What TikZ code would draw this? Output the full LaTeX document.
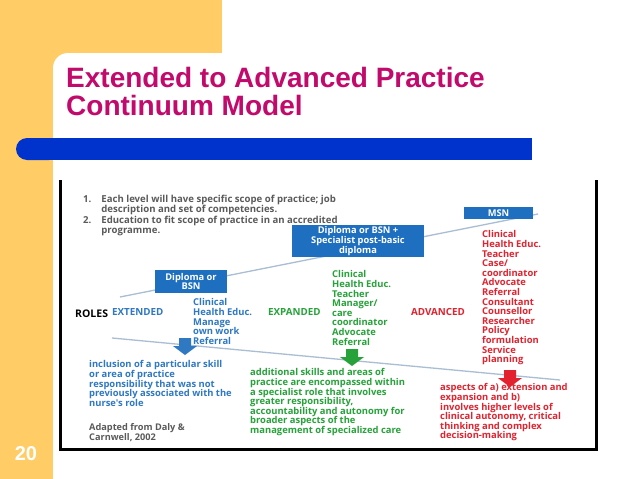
\documentclass[tikz,border=0pt]{standalone}
\usepackage{fontspec}
\newfontfamily\titlefont{Liberation Sans}
\newfontfamily\labelfont{Open Sans}
\definecolor{SlideOrange}{HTML}{FFCC66}
\definecolor{TitlePink}{HTML}{C20A6C}
\definecolor{BarBlue}{HTML}{0033CC}
\definecolor{BoxBlue}{HTML}{1F6FC0}
\definecolor{ExtBlue}{HTML}{2F78C2}
\definecolor{ExpGreen}{HTML}{27A23A}
\definecolor{AdvRed}{HTML}{E2232F}
\definecolor{NoteGray}{HTML}{5A5A5A}
\definecolor{TrendGray}{HTML}{A9BDD3}
\usetikzlibrary{positioning}

\begin{document}
\begin{tikzpicture}[x=1pt, y=-1pt,
    level/.style={fill=BoxBlue, text=white, inner sep=0pt, align=center,
                  font=\labelfont\bfseries\fontsize{9.3}{9.6}\selectfont},
    rolelist/.style={anchor=north west, inner sep=0pt, align=left,
                     font=\labelfont\bfseries\fontsize{9.4}{9.6}\selectfont},
    roletag/.style={anchor=west, inner sep=0pt,
                    font=\labelfont\bfseries\fontsize{9.8}{10}\selectfont},
    trend/.style={TrendGray, line width=1.3pt},
    downarrow/.pic={\fill[#1] (-6,0) -- (6,0) -- (6,8) -- (12,8) -- (0,17)
                    -- (-12,8) -- (-6,8) -- cycle;}]
  \useasboundingbox (0,0) rectangle (638,479);

  % Slide background
  \fill[SlideOrange] (0,0) rectangle (222,53);
  \fill[SlideOrange] (0,0) rectangle (53,479);
  \fill[SlideOrange] (53,53) rectangle (75,75);
  \fill[white, rounded corners=15pt] (53,53) rectangle (680,520);
  \fill[BarBlue, rounded corners=11pt] (16,138) rectangle (60,160);
  \fill[BarBlue] (40,138) rectangle (532,160);

  \node[anchor=north west, inner sep=0pt, align=left, text=TitlePink,
        font=\titlefont\bfseries\fontsize{28}{28}\selectfont] (title) at (66,67)
    {Extended to Advanced Practice\\Continuum Model};
  \node[text=white, font=\titlefont\bfseries\fontsize{20}{20}\selectfont]
    (pageno) at (26,454) {20};

  % Picture frame
  \draw[line width=3pt] (60,180) -- (60,449) -- (596,449) -- (596,180);

  % Notes
  \node[anchor=north west, inner sep=0pt, text=NoteGray,
        font=\labelfont\bfseries\fontsize{9.6}{10}\selectfont] (notes) at (83,195)
    {\begin{tabular}{@{}l@{\hspace{10pt}}l@{}}
       1. & Each level will have specific scope of practice; job\\
          & description and set of competencies.\\
       2. & Education to fit scope of practice in an accredited\\
          & programme.
     \end{tabular}};

  % Rising levels
  \coordinate (riseL) at (120,297);
  \coordinate (riseR) at (538,214);
  \draw[trend] (riseL) -- (riseR);
  \node[level, minimum width=72pt, minimum height=23pt] (dipl) at (191,281.5)
    {Diploma or\\BSN};
  \node[level, minimum width=132pt, minimum height=32pt] (spec) at (358,241)
    {Diploma or BSN +\\Specialist post-basic\\diploma};
  \node[level, minimum width=69pt, minimum height=12pt] (msn) at (498.5,213) {MSN};

  % Roles
  \node[roletag, font=\labelfont\bfseries\fontsize{10.5}{11}\selectfont] (roles)
    at (75,314) {ROLES};
  \node[roletag, text=ExtBlue] (ext) at (112,312) {EXTENDED};
  \node[roletag, text=ExpGreen] (exp) at (268,312) {EXPANDED};
  \node[roletag, text=AdvRed] (adv) at (411,312) {ADVANCED};

  \node[rolelist, text=ExtBlue] (extRoles) at (193,298.5)
    {Clinical\\Health Educ.\\Manage\\own work\\Referral};
  \node[rolelist, text=ExpGreen] (expRoles) at (332,270.5)
    {Clinical\\Health Educ.\\Teacher\\Manager/\\care\\coordinator\\Advocate\\Referral};
  \node[rolelist, text=AdvRed] (advRoles) at (482,230.5)
    {Clinical\\Health Educ.\\Teacher\\Case/\\coordinator\\Advocate\\Referral\\
     Consultant\\Counsellor\\Researcher\\Policy\\formulation\\Service\\planning};

  % Definitions
  \node[rolelist, text=ExtBlue] (extDef) at (89,360.5)
    {inclusion of a particular skill\\or area of practice\\responsibility that was not\\
     previously associated with the\\nurse's role};
  \node[rolelist, text=ExpGreen] (expDef) at (250,368.5)
    {additional skills and areas of\\practice are encompassed within\\
     a specialist role that involves\\greater responsibility,\\
     accountability and autonomy for\\broader aspects of the\\
     management of specialized care};
  \node[rolelist, text=AdvRed] (advDef) at (440,383.5)
    {aspects of a) extension and\\expansion and b)\\involves higher levels of\\
     clinical autonomy, critical\\thinking and complex\\decision-making};
  \node[rolelist, text=NoteGray, font=\labelfont\bfseries\fontsize{9.2}{10}\selectfont]
    (source) at (89,423.5) {Adapted from Daly \&\\Carnwell, 2002};

  % Falling line and arrows
  \coordinate (fallL) at (112,338);
  \coordinate (fallR) at (560,380);
  \draw[trend] (fallL) -- (fallR);
  \pic (extArrow) at (185,338) {downarrow=ExtBlue};
  \pic (expArrow) at (352,349) {downarrow=ExpGreen};
  \pic (advArrow) at (510,370) {downarrow=AdvRed};
\end{tikzpicture}
\end{document}
